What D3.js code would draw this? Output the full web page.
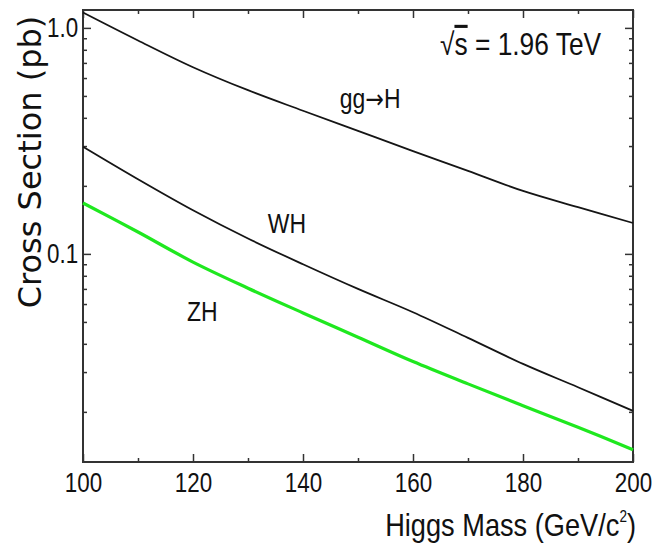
<!DOCTYPE html>
<html>
<head>
<meta charset="utf-8">
<script src="https://cdn.jsdelivr.net/npm/d3@7"></script>
<style>
  body { margin: 0; background: #fff; }
  .narrow { font-family: "Liberation Sans Narrow", "Liberation Sans", Arial, sans-serif; }
  .axis path, .axis line { stroke: #333; }
  .axis text { fill: #111; }
</style>
</head>
<body>
<div class="chart"></div>
<script>
// Higgs mass points (GeV/c^2)
var masses = [100, 110, 120, 130, 140, 150, 160, 170, 180, 190, 200];
// cross sections (pb)
var ggH = [1.17, 0.88, 0.67, 0.53, 0.43, 0.35, 0.285, 0.233, 0.19, 0.161, 0.137];
var WH  = [0.298, 0.214, 0.156, 0.117, 0.090, 0.070, 0.0552, 0.0425, 0.0326, 0.0257, 0.0202];
var ZH  = [0.168, 0.125, 0.092, 0.0705, 0.0548, 0.0428, 0.0334, 0.0266, 0.0213, 0.0171, 0.0136];

var xMajor = [100, 120, 140, 160, 180, 200];
var xMinor = [110, 130, 150, 170, 190];
var yMajor = [0.1, 1.0];
var yMinor = [0.02, 0.03, 0.04, 0.05, 0.06, 0.07, 0.08, 0.09,
              0.2, 0.3, 0.4, 0.5, 0.6, 0.7, 0.8, 0.9];

var margin = { top: 10, right: 22, bottom: 85, left: 83 };
var width = 655 - margin.left - margin.right;
var height = 547 - margin.top - margin.bottom;

// the reference lettering is condensed, so squeeze it horizontally
var squeeze = 0.85;

var svg = d3.select(".chart")
  .append("svg")
  .attr("width", 655)
  .attr("height", 547)
  .append("g")
  .attr("transform", "translate(" + margin.left + "," + margin.top + ")");

var xScale = d3.scaleLinear().domain([100, 200]).range([0, width]);
var yScale = d3.scaleLog().domain([0.012, 1.2]).range([height, 0]);

// major + minor ticks on all four sides, pointing inward
function addAxis(axisFn, scale, values, size, label, transform) {
  var ax = axisFn(scale)
    .tickValues(values)
    .tickSizeInner(-size)
    .tickSizeOuter(0);
  if (label) {
    ax.tickFormat(label).tickPadding(axisFn === d3.axisBottom ? 10 : 6);
  } else {
    ax.tickFormat("");
  }
  var g = svg.append("g").classed("axis", true).classed("narrow", true);
  if (transform) g.attr("transform", transform);
  g.call(ax);
  g.selectAll("line").attr("stroke-width", 1.5);
  g.select(".domain").remove();
  g.selectAll("text")
    .attr("font-size", 28)
    .attr("transform", "scale(0.8,1)");
  return g;
}

addAxis(d3.axisBottom, xScale, xMajor, 8, d3.format("d"), "translate(0," + height + ")");
addAxis(d3.axisBottom, xScale, xMinor, 4, null, "translate(0," + height + ")");
addAxis(d3.axisTop, xScale, xMajor, 8, null);
addAxis(d3.axisTop, xScale, xMinor, 4, null);
addAxis(d3.axisLeft, yScale, yMajor, 8, d3.format(".1f"));
addAxis(d3.axisLeft, yScale, yMinor, 4, null);
addAxis(d3.axisRight, yScale, yMajor, 8, null, "translate(" + width + ",0)");
addAxis(d3.axisRight, yScale, yMinor, 4, null, "translate(" + width + ",0)");

svg.append("rect")
  .attr("width", width)
  .attr("height", height)
  .attr("fill", "none")
  .attr("stroke", "#333")
  .attr("stroke-width", 2);

var line = d3.line()
  .x((d, i) => xScale(masses[i]))
  .y(d => yScale(d))
  .curve(d3.curveCatmullRom);

var series = [
  { name: "gg", values: ggH, color: "#151515", w: 1.8 },
  { name: "WH", values: WH, color: "#151515", w: 1.8 },
  { name: "ZH", values: ZH, color: "#1fe81f", w: 3.2 }
];

svg.selectAll(".curve")
  .data(series)
  .enter()
  .append("path")
  .attr("class", "curve")
  .attr("d", d => line(d.values))
  .attr("fill", "none")
  .attr("stroke", d => d.color)
  .attr("stroke-width", d => d.w);

function hText(x, y, size, anchor) {
  return svg.append("text")
    .attr("class", "narrow")
    .attr("transform", "translate(" + x + "," + y + ") scale(" + squeeze + ",1)")
    .attr("text-anchor", anchor || "start")
    .attr("font-size", size)
    .attr("fill", "#111");
}

// process labels, placed in data units
var gg = hText(xScale(146.7), yScale(0.443), 27);
gg.append("tspan").text("gg");
gg.append("tspan").attr("font-family", "DejaVu Sans").attr("font-size", 26).text("\u2192");
gg.append("tspan").text("H");

hText(xScale(133.6), yScale(0.124), 27).text("WH");
hText(xScale(118.9), yScale(0.0505), 27).text("ZH");

var energy = hText(width - 193, 45, 31);
energy.append("tspan").text("\u221A");
energy.append("tspan").style("text-decoration", "overline").text("s");
energy.append("tspan").text(" = 1.96 TeV");

var xTitle = hText(width + 3, height + 74, 32, "end");
xTitle.append("tspan").text("Higgs Mass (GeV/c");
xTitle.append("tspan").attr("font-size", 16).attr("dy", -14).text("2");
xTitle.append("tspan").attr("dy", 14).text(")");

svg.append("text")
  .attr("transform", "translate(-42," + 152 + ") rotate(-90)")
  .attr("text-anchor", "middle")
  .attr("font-family", "DejaVu Sans")
  .attr("font-size", 32)
  .attr("fill", "#111")
  .text("Cross Section (pb)");
</script>
</body>
</html>
